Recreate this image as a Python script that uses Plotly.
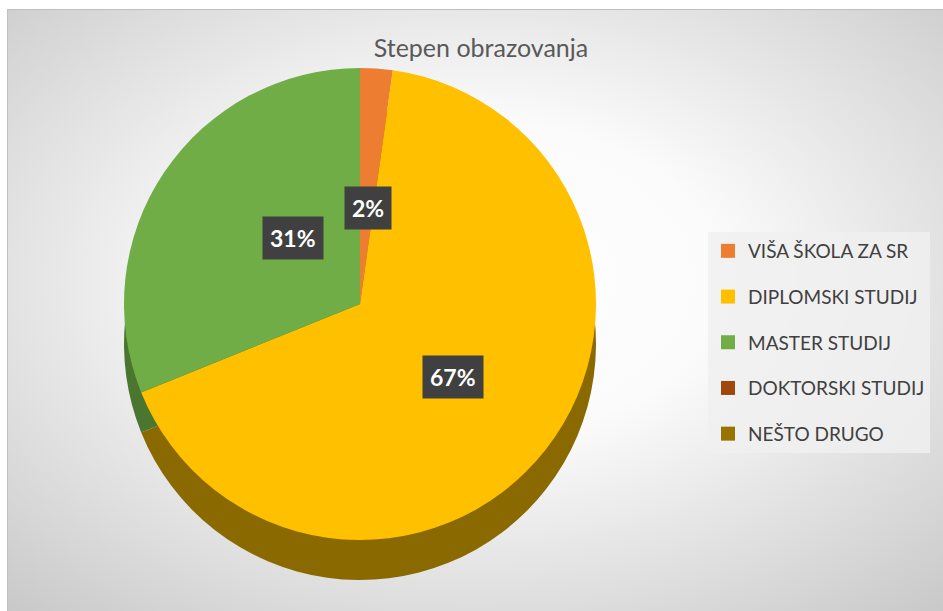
import math
import urllib.parse
import plotly.graph_objects as go

# ---- data ----
categories = ["VIŠA ŠKOLA ZA SR", "DIPLOMSKI STUDIJ", "MASTER STUDIJ",
              "DOKTORSKI STUDIJ", "NEŠTO DRUGO"]
counts = [1, 30, 14, 0, 0]
colors = ["#ED7D31", "#FFC000", "#70AD47", "#9E480E", "#997300"]
side_colors = ["#9a4f1d", "#8a6a00", "#4b7630", "#6a300a", "#665000"]
title_text = "Stepen obrazovanja"

W, H = 943, 611
FONT = "Lato, 'Open Sans', sans-serif"

# pie geometry (pixels -> paper)
cx, cy, r = 360, 304, 236
depth = 40

def dom(cx_, cy_, r_):
    return dict(x=[(cx_ - r_) / W, (cx_ + r_) / W],
                y=[1 - (cy_ + r_) / H, 1 - (cy_ - r_) / H])

fig = go.Figure()

# background radial gradient (chart area)
bw, bh = W - 7, H - 9
svg = (f"<svg xmlns='http://www.w3.org/2000/svg' width='{bw}' height='{bh}' "
       f"viewBox='0 0 {bw} {bh}' preserveAspectRatio='none'>"
       "<defs><radialGradient id='g' cx='50%' cy='45%' r='75%'>"
       "<stop offset='0' stop-color='#ffffff'/><stop offset='0.35' stop-color='#fbfbfb'/>"
       "<stop offset='1' stop-color='#c8c8c8'/></radialGradient></defs>"
       f"<rect x='0' y='0' width='{bw}' height='{bh}' fill='url(#g)'/></svg>")
src = "data:image/svg+xml;charset=utf-8," + urllib.parse.quote(svg)

# side (depth) of the pie
fig.add_trace(go.Pie(
    labels=categories, values=counts, sort=False, direction="clockwise",
    rotation=0, marker=dict(colors=side_colors, line=dict(width=0)),
    textinfo="none", hoverinfo="skip", showlegend=False,
    domain=dom(cx, cy + depth, r)))

# top face
fig.add_trace(go.Pie(
    labels=categories, values=counts, sort=False, direction="clockwise",
    rotation=0, marker=dict(colors=colors, line=dict(width=0)),
    textinfo="none", showlegend=False,
    domain=dom(cx, cy, r)))

# legend entries (one group per category for spacing)
for i, (c, col) in enumerate(zip(categories, colors)):
    fig.add_trace(go.Scatter(
        x=[None], y=[None], mode="markers", name=c,
        marker=dict(symbol="square", size=14, color=col),
        legendgroup=f"g{i}", showlegend=True))

# percentage labels with dark boxes
total = sum(counts)
cum = 0
for v in counts:
    if v > 0:
        mid = (cum + v / 2) / total * 2 * math.pi
        px = cx + 0.5 * r * math.sin(mid)
        py = cy - 0.5 * r * math.cos(mid)
        fig.add_annotation(
            x=px / W, y=1 - py / H, xref="paper", yref="paper",
            text=f"<b>{round(100 * v / total)}%</b>", showarrow=False,
            font=dict(family=FONT, size=23, color="white"),
            bgcolor="#404040", borderpad=7)
    cum += v

fig.update_layout(
    width=W, height=H,
    margin=dict(l=0, r=0, t=0, b=0),
    paper_bgcolor="white", plot_bgcolor="rgba(0,0,0,0)",
    images=[dict(source=src, xref="paper", yref="paper",
                 x=7 / W, y=1 - 9 / H, sizex=bw / W, sizey=bh / H,
                 sizing="stretch", layer="below", xanchor="left", yanchor="top")],
    shapes=[dict(type="rect", xref="paper", yref="paper",
                 x0=7.5 / W, x1=1.01, y0=-0.01, y1=1 - 9.5 / H,
                 line=dict(color="#bfbfbf", width=1), fillcolor="rgba(0,0,0,0)",
                 layer="below")],
    title=dict(text=title_text, x=481 / W, xanchor="center", y=1 - 48 / H,
               yanchor="middle",
               font=dict(family=FONT, size=25, color="#595959")),
    xaxis=dict(visible=False), yaxis=dict(visible=False),
    legend=dict(x=708 / W, y=1 - 232 / H, xanchor="left", yanchor="top",
                bgcolor="rgba(240,240,240,0.85)", tracegroupgap=18,
                font=dict(family=FONT, size=19, color="#404040"),
                itemwidth=30),
    showlegend=True,
)

fig.write_html("out.html", config={"displayModeBar": False},
               post_script="document.body.style.margin='0px';document.body.style.padding='0px';")
